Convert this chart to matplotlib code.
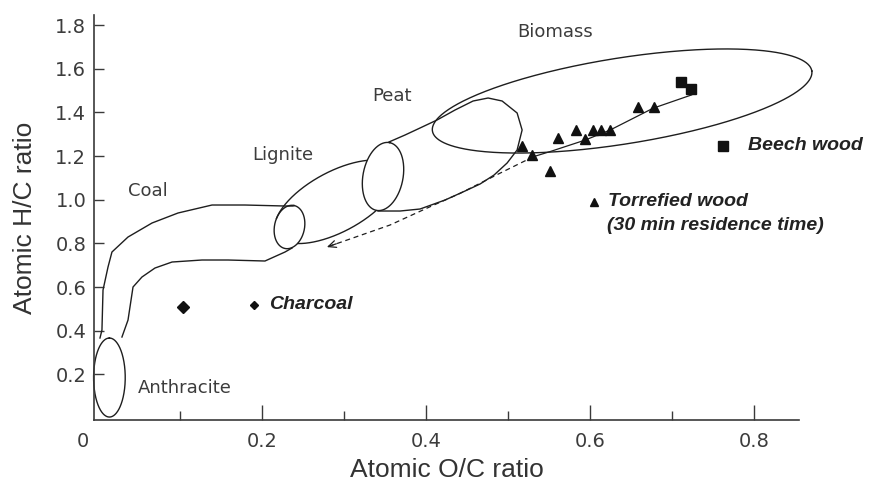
import numpy as np
import matplotlib
matplotlib.use("Agg")
import matplotlib.pyplot as plt

# ---- measured samples -------------------------------------------------
charcoal_oc = [0.104]
charcoal_hc = [0.510]
beech_oc = [0.7106, 0.7237]
beech_hc = [1.541, 1.505]
torrefied_oc = [0.517, 0.529, 0.551, 0.561, 0.583, 0.594, 0.604, 0.614, 0.625, 0.658, 0.678]
torrefied_hc = [1.245, 1.207, 1.130, 1.283, 1.321, 1.280, 1.321, 1.321, 1.321, 1.426, 1.426]

# torrefaction path: solid through the data, dashed extrapolation
trend_solid_oc = [0.724, 0.677, 0.6245, 0.594, 0.551, 0.531]
trend_solid_hc = [1.480, 1.419, 1.319, 1.273, 1.220, 1.197]
trend_dash_oc = [0.531, 0.490, 0.4415, 0.405, 0.356, 0.279]
trend_dash_hc = [1.197, 1.121, 1.029, 0.968, 0.884, 0.783]

# ---- fuel regions -------------------------------------------------------
# ellipses: (centre O/C, centre H/C, semi-axis a, semi-axis b, tilt deg)
# semi-axes are given in O/C units of on-screen length
anthracite = (0.0137, 0.1855, 0.0482, 0.0193, 90.0)
coal_end = (0.2334, 0.8750, 0.0268, 0.0183, 78.0)
lignite_end = (0.3475, 1.1063, 0.0421, 0.0244, 79.0)
lignite = (0.2904, 0.9904, 0.0830, 0.0366, 28.4)
biomass = (0.6392, 1.4521, 0.2343, 0.0525, 9.0)

coal_upper_oc = [0.0022, 0.0046, 0.0059, 0.0120, 0.0168, 0.0364, 0.0657, 0.0974,
                 0.1389, 0.1788, 0.2279, 0.2377]
coal_upper_hc = [0.3665, 0.4031, 0.5863, 0.6917, 0.7604, 0.8291, 0.8933, 0.9391,
                 0.9757, 0.9757, 0.9711, 0.9711]
coal_lower_oc = [0.0290, 0.0364, 0.0388, 0.0425, 0.0534, 0.0693, 0.0901, 0.1267,
                 0.1584, 0.2035, 0.2279, 0.2365]
coal_lower_hc = [0.3711, 0.4489, 0.5085, 0.6001, 0.6459, 0.6871, 0.7146, 0.7238,
                 0.7238, 0.7192, 0.7604, 0.7788]
peat_oc = [0.3548, 0.3744, 0.3927, 0.4134, 0.4354, 0.4574, 0.4757, 0.4928, 0.5111,
           0.5172, 0.5111, 0.4989, 0.4830, 0.4659, 0.4476, 0.4232, 0.3927, 0.3683,
           0.3414]
peat_hc = [1.2644, 1.2964, 1.3285, 1.3651, 1.4109, 1.4521, 1.4658, 1.4521, 1.3972,
           1.3193, 1.2277, 1.1681, 1.1132, 1.0719, 1.0399, 0.9986, 0.9574, 0.9482,
           0.9482]

y_ticks = [0.2, 0.4, 0.6, 0.8, 1.0, 1.2, 1.4, 1.6, 1.8]
x_major = [0.2, 0.4, 0.6, 0.8]
x_minor = [0.1, 0.3, 0.5, 0.7]

LINE = "#1e1e1e"
AXC = "#3a3a3a"
TXT = "#3c3c3c"

fig = plt.figure(figsize=(8.72, 4.91), dpi=100)
ax = fig.add_axes([94 / 872, 1 - 420 / 491, 705 / 872, 405 / 491])
ax.set_xlim(-0.0051, 0.855)
ax.set_ylim(-0.009, 1.846)

p0 = ax.transData.transform((0, 0))
p1 = ax.transData.transform((1, 1))
K = (p1[0] - p0[0]) / (p1[1] - p0[1])  # screen x-units per data y-unit


def ellipse_pts(e, n=600):
    cx, cy, a, b, ang = e
    t = np.linspace(0, 2 * np.pi, n)
    th = np.deg2rad(ang)
    u, v = a * np.cos(t), b * np.sin(t)
    dx = u * np.cos(th) - v * np.sin(th)
    dy = u * np.sin(th) + v * np.cos(th)
    return cx + dx, cy + dy * K


def inside(e, x, y):
    cx, cy, a, b, ang = e
    th = np.deg2rad(ang)
    dx, dy = x - cx, (y - cy) / K
    u = dx * np.cos(th) + dy * np.sin(th)
    v = -dx * np.sin(th) + dy * np.cos(th)
    return (u / a) ** 2 + (v / b) ** 2 < 1.0


lw = 1.0
for e in (anthracite, coal_end, lignite_end, biomass):
    x, y = ellipse_pts(e)
    ax.plot(x, y, color=LINE, lw=lw, clip_on=False)

# lignite band between its two end ellipses
lx, ly = ellipse_pts(lignite)
mask = inside(coal_end, lx, ly) | inside(lignite_end, lx, ly)
lx = np.where(mask, np.nan, lx)
ax.plot(lx, ly, color=LINE, lw=lw)

ax.plot(coal_upper_oc, coal_upper_hc, color=LINE, lw=lw)
ax.plot(coal_lower_oc, coal_lower_hc, color=LINE, lw=lw)
ax.plot(peat_oc, peat_hc, color=LINE, lw=lw)

# torrefaction trend
ax.plot(trend_solid_oc, trend_solid_hc, color=LINE, lw=0.9)
ax.plot(trend_dash_oc, trend_dash_hc, color=LINE, lw=0.9, dashes=(4, 3))
tip = np.array([trend_dash_oc[-1], trend_dash_hc[-1]])
back = np.array([trend_dash_oc[-2], trend_dash_hc[-2]])
ax.annotate("", xy=tip, xytext=tip + 0.15 * (back - tip),
            arrowprops=dict(arrowstyle="->,head_length=0.55,head_width=0.25",
                            color=LINE, lw=0.9, shrinkA=0, shrinkB=0))

# samples
ax.plot(charcoal_oc, charcoal_hc, "D", color="#111", ms=6.5, ls="none")
ax.plot(beech_oc, beech_hc, "s", color="#111", ms=7.5, ls="none")
ax.plot(torrefied_oc, torrefied_hc, "^", color="#111", ms=7, ls="none")

# region names
rfont = dict(family="DejaVu Sans", fontsize=13, color=TXT, ha="center", va="center")
ax.text(0.557, 1.770, "Biomass", **rfont)
ax.text(0.358, 1.474, "Peat", **rfont)
ax.text(0.2247, 1.2048, "Lignite", **rfont)
ax.text(0.061, 1.041, "Coal", **rfont)
ax.text(0.1059, 0.136, "Anthracite", **rfont)

# sample key
kfont = dict(family="Liberation Sans", fontsize=14, fontweight="bold",
             fontstyle="italic", color="#222", va="center", ha="left")
ax.plot([0.1895], [0.518], "D", color="#111", ms=4.5)
ax.text(0.2084, 0.518, "Charcoal", **kfont)
ax.plot([0.7621], [1.246], "s", color="#111", ms=7)
ax.text(0.793, 1.246, "Beech wood", **kfont)
ax.plot([0.6044], [0.991], "^", color="#111", ms=6)
ax.text(0.622, 0.991, "Torrefied wood", **kfont)
ax.text(0.621, 0.884, "(30 min residence time)", **kfont)

# axes styling
for s in ("top", "right"):
    ax.spines[s].set_visible(False)
for s in ("left", "bottom"):
    ax.spines[s].set_color(AXC)
    ax.spines[s].set_linewidth(1.2)

ax.set_yticks(y_ticks)
ax.set_yticklabels([f"{v:.1f}" for v in y_ticks])
ax.set_xticks(x_major)
ax.set_xticklabels([f"{v:.1f}" for v in x_major])
ax.set_xticks(x_minor, minor=True)
ax.tick_params(axis="y", direction="in", length=7, width=1, color=AXC,
               labelsize=14, labelcolor=TXT, pad=5.5)
ax.tick_params(axis="x", which="major", direction="in", length=11, width=1,
               color=AXC, labelsize=14, labelcolor=TXT, pad=8.5)
ax.tick_params(axis="x", which="minor", direction="in", length=6.5, width=1,
               color=AXC)
for lab in ax.get_xticklabels() + ax.get_yticklabels():
    lab.set_family("DejaVu Sans")

ax.annotate("0", xy=(0, -0.009), xytext=(-11, -8.5), textcoords="offset points",
            ha="center", va="top", fontsize=14, color=TXT, family="DejaVu Sans")

ax.set_xlabel("Atomic O/C ratio", family="Liberation Sans", fontsize=19,
              color="#333", labelpad=5)
ax.set_ylabel("Atomic H/C ratio", family="Liberation Sans", fontsize=19,
              color="#333", labelpad=13)

fig.savefig("out.png", dpi=100)
